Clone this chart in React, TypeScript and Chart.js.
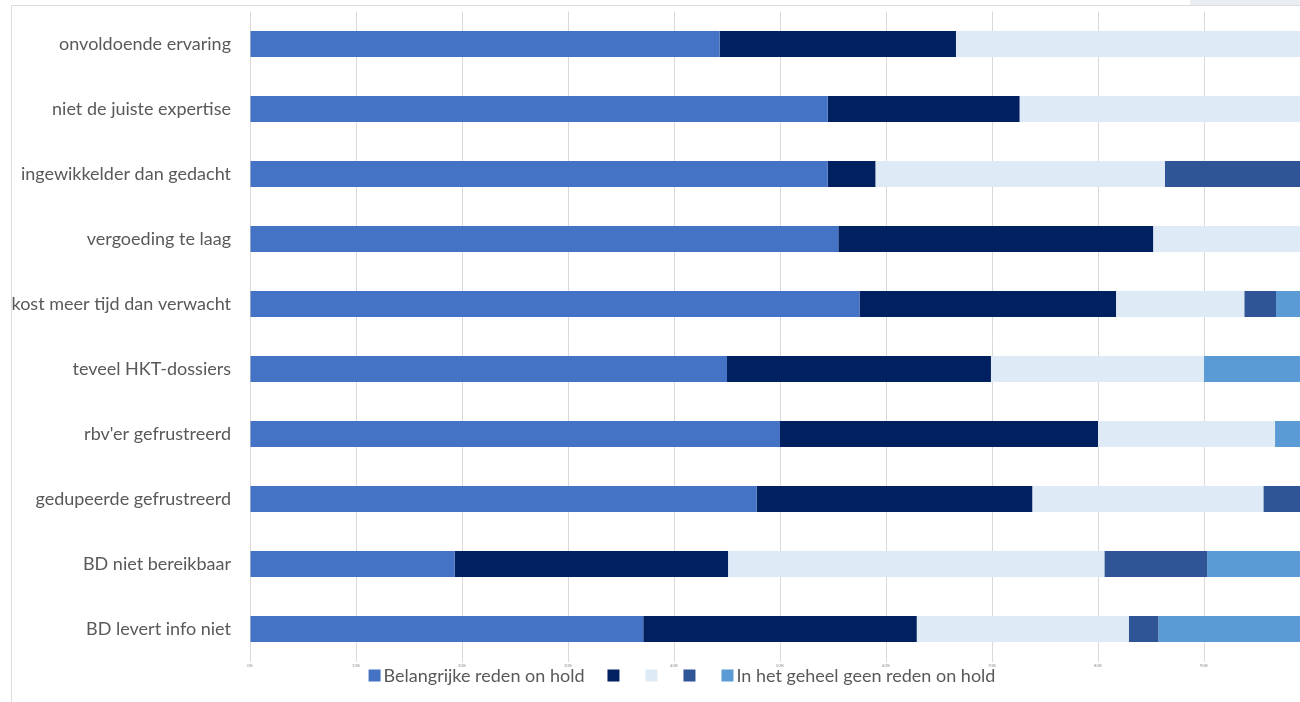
import React, { useEffect, useRef } from 'react';
import { Chart, registerables } from 'chart.js';

Chart.register(...registerables);

const categories = [
  'onvoldoende ervaring',
  'niet de juiste expertise',
  'ingewikkelder dan gedacht',
  'vergoeding te laag',
  'kost meer tijd dan verwacht',
  'teveel HKT-dossiers',
  "rbv'er gefrustreerd",
  'gedupeerde gefrustreerd',
  'BD niet bereikbaar',
  'BD levert info niet',
];

const seriesLabels = ['Belangrijke reden on hold', '', '', '', 'In het geheel geen reden on hold'];
const seriesColors = ['#4472C4', '#002060', '#DEEBF7', '#2F5597', '#5B9BD5'];

const s1 = [44.3, 54.5, 54.5, 55.5, 57.5, 45.0, 50.0, 47.8, 19.3, 37.1];
const s2 = [22.3, 18.1, 4.5, 29.7, 24.2, 24.9, 30.0, 26.0, 25.8, 25.8];
const s3 = [33.4, 27.4, 27.3, 14.8, 12.1, 20.1, 16.7, 21.8, 35.5, 20.0];
const s4 = [0, 0, 13.7, 0, 3.0, 0, 0, 4.4, 9.7, 2.8];
const s5 = [0, 0, 0, 0, 3.2, 10.0, 3.3, 0, 9.7, 14.3];

const tickLabels = ['0%', '10%', '20%', '30%', '40%', '50%', '60%', '70%', '80%', '90%'];

const FONT = 'Lato, "Open Sans", sans-serif';
const TEXT_COLOR = '#595959';

const legendPlugin = {
  id: 'customLegend',
  afterDraw(chart: any) {
    const ctx = chart.ctx as CanvasRenderingContext2D;
    ctx.save();
    ctx.font = `18px ${FONT}`;
    ctx.textBaseline = 'middle';
    ctx.textAlign = 'left';
    const box = 12;
    const gap = 3;
    const spacing = 23;
    const items = chart.data.datasets.map((ds: any) => {
      const w = ctx.measureText(ds.label).width;
      return { label: ds.label, color: ds.backgroundColor, width: box + gap + w };
    });
    const total = items.reduce((a: number, it: any) => a + it.width, 0) + spacing * (items.length - 1);
    let x = 682 - total / 2;
    const cy = 675.5;
    items.forEach((it: any) => {
      ctx.fillStyle = it.color;
      ctx.fillRect(x, cy - box / 2, box, box);
      ctx.fillStyle = TEXT_COLOR;
      if (it.label) ctx.fillText(it.label, x + box + gap, cy + 1);
      x += it.width + spacing;
    });
    ctx.restore();
  },
};

export default function App() {
  const ref = useRef<HTMLCanvasElement | null>(null);
  useEffect(() => {
    if (!ref.current) return;
    const data = [s1, s2, s3, s4, s5];
    const chart = new Chart(ref.current, {
      type: 'bar',
      data: {
        labels: categories,
        datasets: data.map((d, i) => ({
          label: seriesLabels[i],
          data: d,
          backgroundColor: seriesColors[i],
          borderWidth: 0,
          barPercentage: 0.4,
          categoryPercentage: 1,
        })),
      },
      options: {
        indexAxis: 'y',
        animation: false,
        responsive: false,
        maintainAspectRatio: false,
        layout: { padding: { top: 11.5, left: 0, right: 0, bottom: 0 } },
        plugins: {
          legend: { display: false },
          tooltip: { enabled: false },
        },
        scales: {
          x: {
            stacked: true,
            min: 0,
            max: 100,
            border: { display: false },
            grid: { color: '#D9D9D9', lineWidth: 1, drawTicks: false },
            ticks: {
              stepSize: 10,
              padding: 2,
              maxRotation: 0,
              autoSkip: false,
              font: { size: 4, family: FONT },
              color: '#8c8c8c',
              callback: (_v: any, i: number) => tickLabels[i] ?? '',
            },
            afterFit: (scale: any) => {
              scale.height = 40.5;
              scale.paddingLeft = 0;
              scale.paddingRight = 0;
            },
          },
          y: {
            stacked: true,
            border: { display: false },
            grid: {
              display: true,
              drawOnChartArea: false,
              drawTicks: true,
              tickLength: 19,
              color: 'rgba(0,0,0,0)',
            },
            ticks: {
              padding: 0,
              font: { size: 18, family: FONT },
              color: TEXT_COLOR,
              autoSkip: false,
            },
            afterFit: (scale: any) => {
              scale.width = 250;
            },
          },
        },
      },
      plugins: [legendPlugin],
    });
    return () => chart.destroy();
  }, []);

  return (
    <div style={{ position: 'absolute', left: 0, top: 0, width: 1300, height: 702, overflow: 'hidden', background: '#fff' }}>
      <div style={{ position: 'absolute', left: 1190, top: 0, width: 110, height: 5, background: '#EAEEF3' }} />
      <div style={{ position: 'absolute', left: 11, top: 5, width: 1289, height: 0, borderTop: '1px solid #DDDDDD' }} />
      <div style={{ position: 'absolute', left: 11, top: 5, width: 0, height: 697, borderLeft: '1px solid #DDDDDD' }} />
      <canvas ref={ref} width={1310} height={702} style={{ position: 'absolute', left: 0, top: 0, width: 1310, height: 702 }} />
    </div>
  );
}
